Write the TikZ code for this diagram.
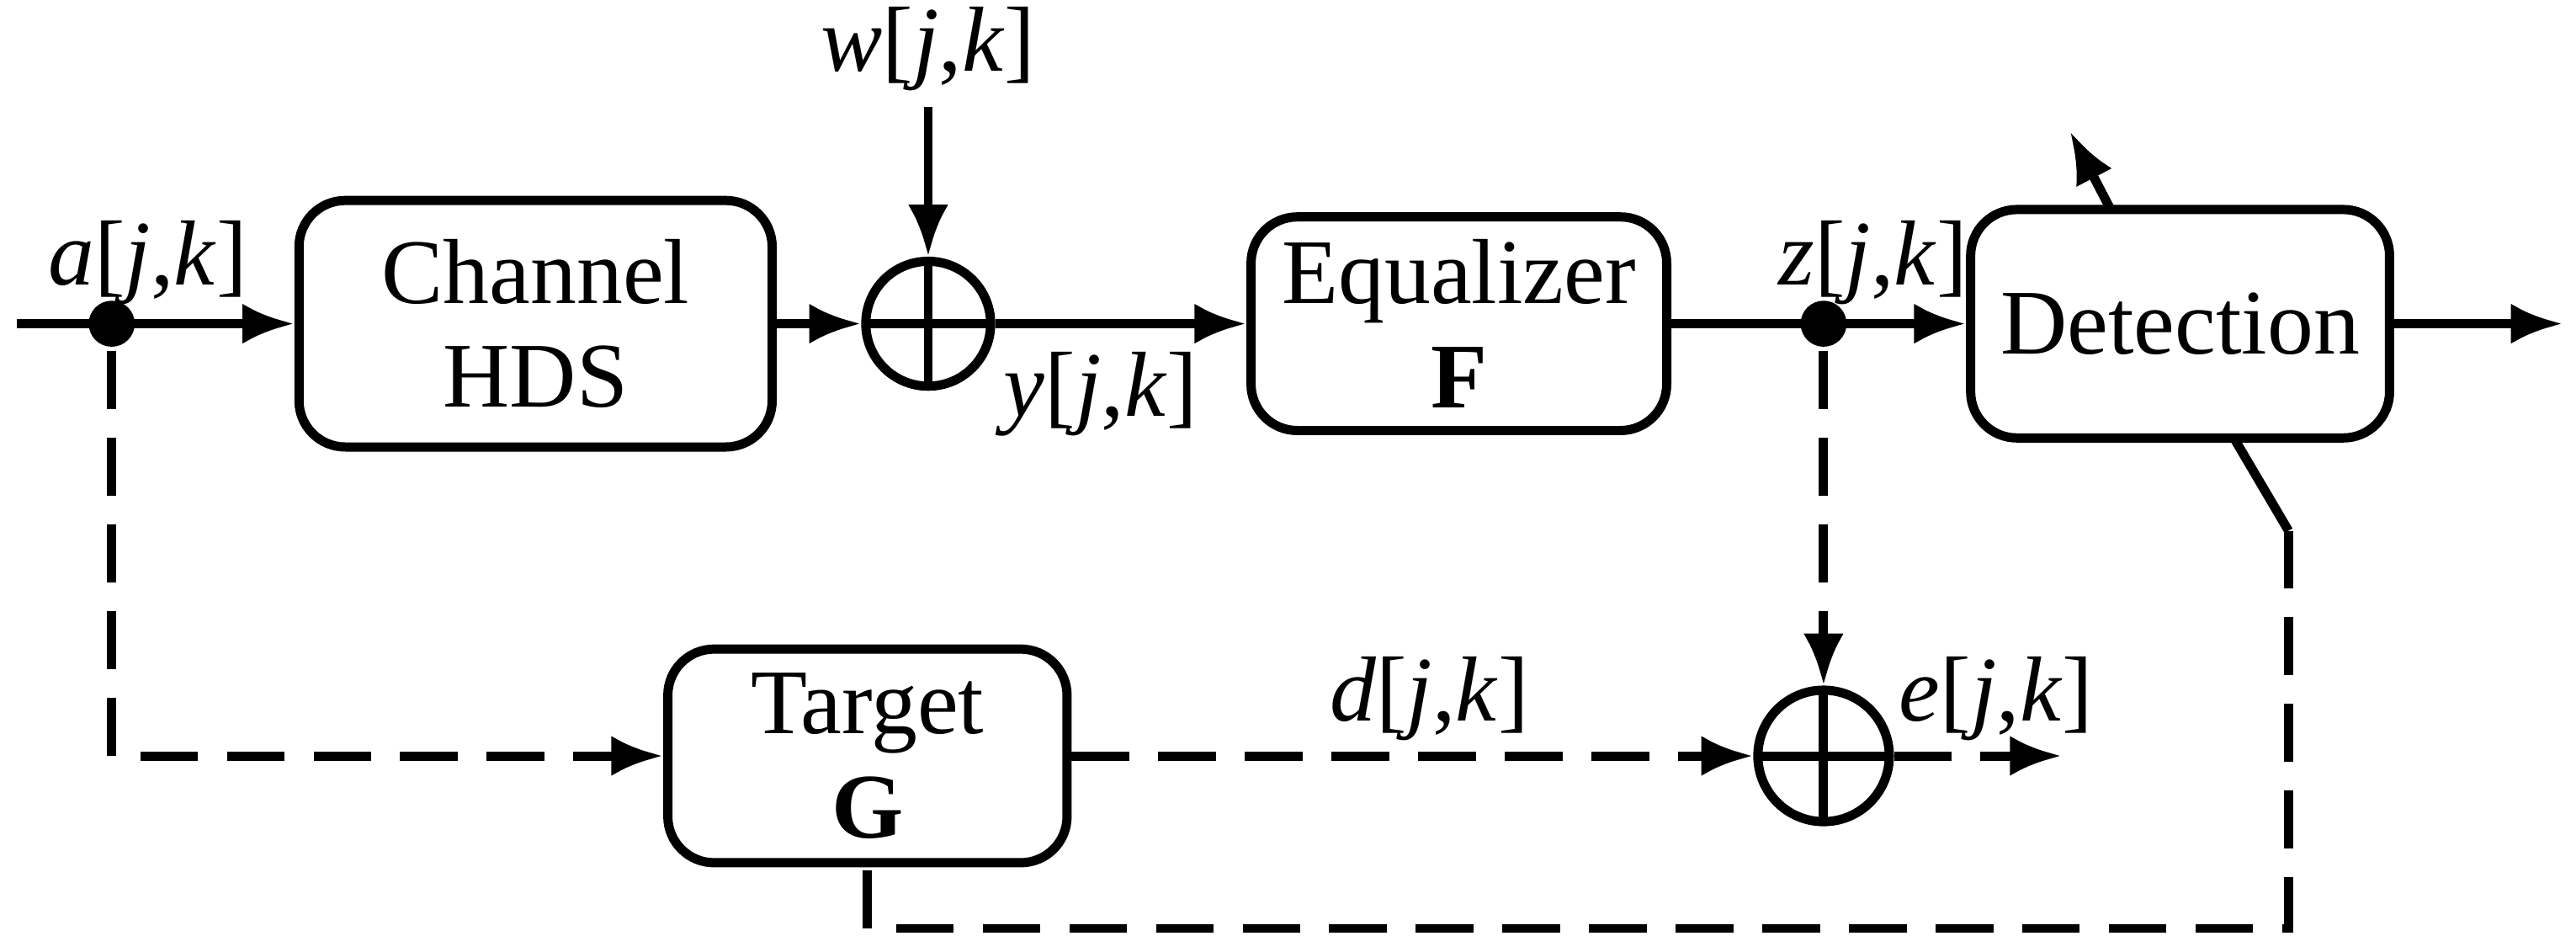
\documentclass[tikz,border=0pt]{standalone}
\usepackage{fontspec}
\setmainfont{Liberation Serif}
\usetikzlibrary{positioning, arrows.meta}

\newcommand{\idx}[1]{\textit{#1}[\textit{j},\textit{k}]}

\begin{document}
\begin{tikzpicture}[
    line width=1.6pt,
    font=\fontsize{16}{18}\selectfont,
    % Styles
    block/.style={draw, rounded corners=8pt, align=center, line width=1.6pt},
    sum/.style={draw, circle, minimum size=#1, inner sep=0pt, line width=1.6pt,
        path picture={\draw (path picture bounding box.north) -- (path picture bounding box.south)
            (path picture bounding box.west) -- (path picture bounding box.east);}},
    dot/.style={circle, fill, inner sep=0pt, minimum size=0.28cm},
    sig/.style={-{Latex[length=9pt,width=7pt]}},
    dashsig/.style={-{Latex[length=9pt,width=7pt]}, dash pattern=on 10pt off 5pt},
    dashline/.style={dash pattern=on 10pt off 5pt},
    lbl/.style={font=\fontsize{16}{18}\selectfont},
]
\useasboundingbox (0,0) rectangle (15.68,5.79);

% Blocks
\node[block, minimum width=2.88cm, minimum height=1.5cm] (channel) at (3.26,3.82) {Channel\\HDS};
\node[sum=0.76cm] (sum1) at (5.65,3.82) {};
\node[block, minimum width=2.53cm, minimum height=1.3cm] (eq) at (8.88,3.82) {Equalizer\\\textbf{F}};
\node[block, minimum width=2.55cm, minimum height=1.39cm] (det) at (13.27,3.82) {Detection};
\node[block, minimum width=2.43cm, minimum height=1.3cm] (target) at (5.28,1.19) {Target\\\textbf{G}};
\node[sum=0.8cm] (sum2) at (11.10,1.19) {};

% Points
\coordinate (in) at (0.1,3.82);
\node[dot] (adot) at (0.68,3.82) {};
\node[dot] (zdot) at (11.10,3.82) {};
\coordinate (out) at (15.6,3.82);
\coordinate (wtop) at (5.65,5.14);
\coordinate (dettip) at (12.6,4.99);
\coordinate (detbase) at (12.85,4.51);
\coordinate (fbstart) at (13.6,3.12);
\coordinate (fbknee) at (13.93,2.56);
\coordinate (fbcorner) at (13.93,0.14);
\coordinate (fbleft) at (5.28,0.14);
\coordinate (acorner) at (0.68,1.19);
\coordinate (eout) at (12.55,1.19);

% Labels
\node[lbl] (wlbl) at (5.65,5.49) {\idx{w}};
\node[lbl] (albl) at (0.9,4.19) {\idx{a}};
\node[lbl] (ylbl) at (6.7,3.39) {\idx{y}};
\node[lbl] (zlbl) at (11.4,4.19) {\idx{z}};
\node[lbl] (dlbl) at (8.7,1.54) {\idx{d}};
\node[lbl] (elbl) at (12.15,1.54) {\idx{e}};

% Forward path
\draw[sig] (in) -- (channel);
\draw[sig] (channel) -- (sum1);
\draw[sig] (wtop) -- (sum1);
\draw[sig] (sum1) -- (eq);
\draw[sig] (eq) -- (det);
\draw[sig] (det) -- (out);
\draw[sig] (detbase) -- (dettip);

% Error path
\draw[dashsig] (adot) -- (acorner) -- (target);
\draw[dashsig] (target) -- (sum2);
\draw[dashsig] (zdot) -- (sum2);
\draw[dashsig] (sum2) -- (eout);
\draw (fbstart) -- (fbknee);
\draw[dashline] (fbknee) -- (fbcorner) -- (fbleft) -- (target.south);

\end{tikzpicture}
\end{document}
